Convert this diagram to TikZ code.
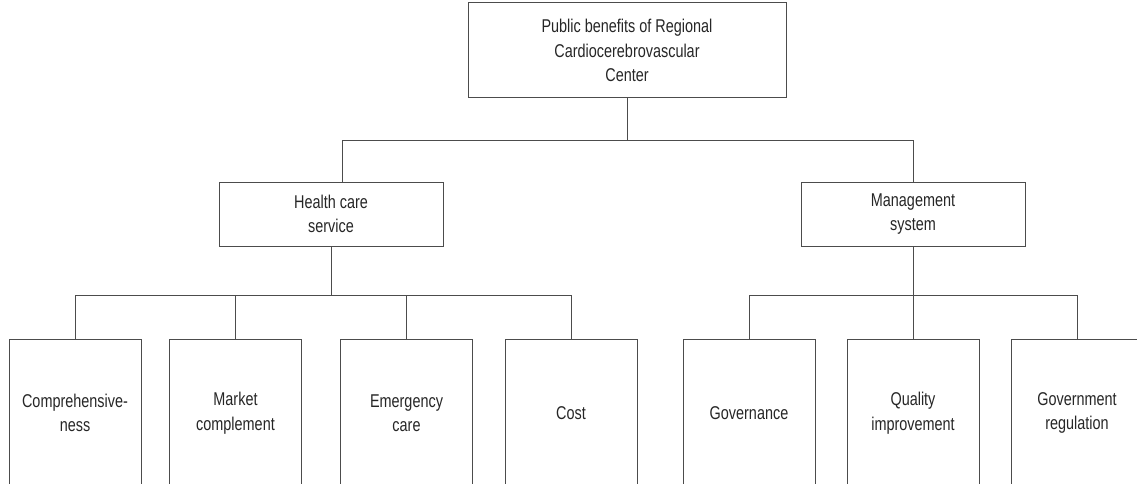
\documentclass[tikz,border=0pt]{standalone}
\usepackage{fontspec}
\setmainfont{Liberation Sans}[FakeStretch=0.78]
\usetikzlibrary{positioning}

\tikzset{
  box/.style={draw=black!70, line width=1pt, align=center, anchor=center,
    font=\fontsize{18.5}{24.5}\selectfont, text=black!85},
  leaf/.style={box, minimum width=132pt, minimum height=148pt},
  link/.style={draw=black!70, line width=1pt}
}

\begin{document}
\begin{tikzpicture}[x=1pt, y=-1pt]
  \useasboundingbox (0,0) rectangle (1137,484);

  % top and middle level
  \node[box, minimum width=318pt, minimum height=95pt] (root) at (627,50.5)
    {Public benefits of Regional\\Cardiocerebrovascular\\Center};
  \node[box, minimum width=224pt, minimum height=64pt] (health) at (331,214)
    {Health care\\service};
  \node[box, minimum width=224pt, minimum height=64pt] (mgmt) at (913,214)
    {Management\\system};

  % leaves
  \node[leaf] (comp) at (75,413) {Comprehensive-\\ness};
  \node[leaf] (market) at (235.5,413) {Market\\complement};
  \node[leaf] (emerg) at (406.5,413) {Emergency\\care};
  \node[leaf] (cost) at (571,413) {Cost};
  \node[leaf] (gov) at (749,413) {Governance};
  \node[leaf] (qual) at (913,413) {Quality\\improvement};
  \node[leaf] (reg) at (1077,413) {Government\\regulation};

  \draw[link] (root.south) -- ++(0,-42pt) -| ([xshift=11pt]health.north);
  \draw[link] (root.south) -- ++(0,-42pt) -| (mgmt.north);
  \foreach \c in {comp,market,emerg,cost}
    \draw[link] (health.south) -- ++(0,-49pt) -| (\c.north);
  \foreach \c in {gov,qual,reg}
    \draw[link] (mgmt.south) -- ++(0,-49pt) -| (\c.north);
\end{tikzpicture}
\end{document}
